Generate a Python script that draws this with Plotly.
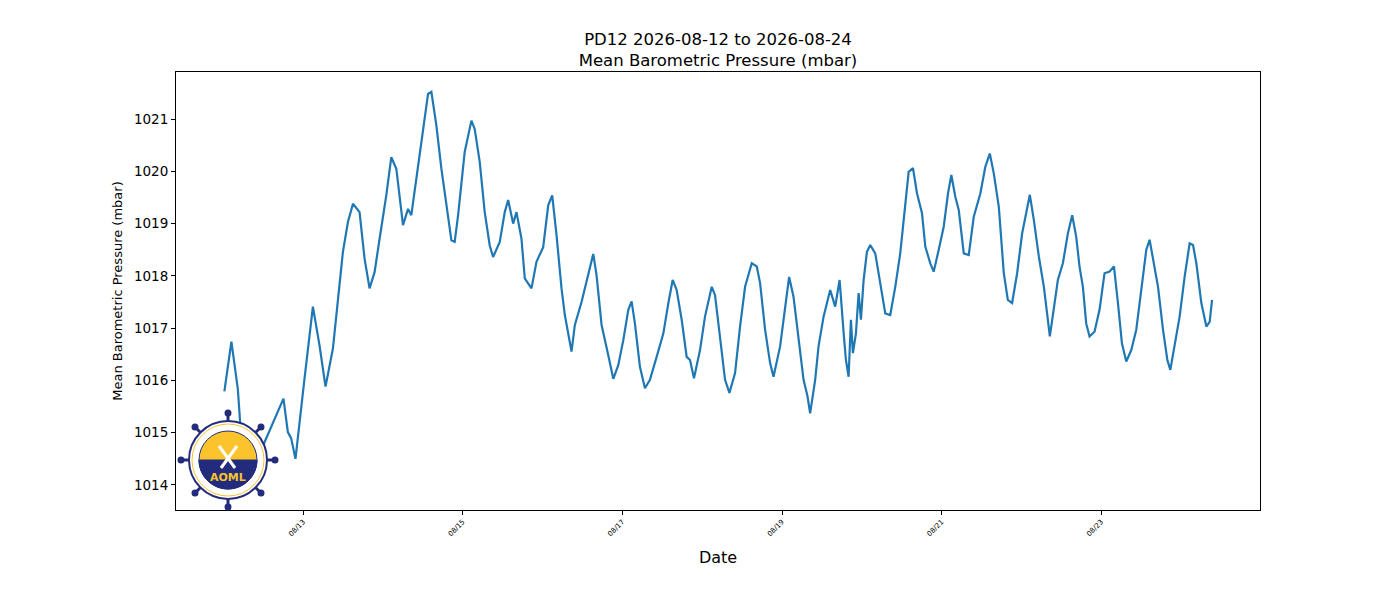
import pandas as pd
import plotly.graph_objects as go

# hours after 2026-08-12 00:00 and the pressure
hours = [0.30, 2.41, 4.34, 5.03, 5.93, 12.05, 18.07, 19.39, 20.39, 21.68,
         24.39, 26.92, 28.91, 30.72, 32.94, 34.45, 35.95, 37.46, 38.97, 40.95,
         42.46, 43.96, 45.47, 46.98, 48.99, 50.50, 52.01, 54.02, 55.53, 56.52,
         58.03, 59.53, 61.55, 62.55, 64.05, 65.56, 67.06, 68.57, 69.56, 70.59,
         72.57, 74.59, 75.58, 77.09, 78.59, 80.10, 81.12, 83.11, 84.62, 85.64,
         87.15, 88.14, 89.65, 90.64, 92.66, 94.16, 96.18, 97.69, 98.89, 100.19,
         101.69, 102.69, 104.70, 105.70, 107.71, 109.73, 111.24, 112.23, 113.74, 115.75,
         117.26, 118.76, 120.27, 121.78, 122.77, 123.76, 125.27, 126.78, 128.28, 130.30,
         132.32, 133.82, 135.12, 136.32, 137.83, 139.33, 140.33, 141.53, 143.34, 144.84,
         146.86, 147.86, 149.36, 150.87, 152.19, 153.88, 155.38, 156.89, 158.91, 160.41,
         161.41, 162.91, 164.42, 165.44, 167.43, 168.94, 170.14, 171.46, 172.97, 174.48,
         175.68, 176.46, 177.97, 178.99, 180.50, 182.49, 183.99, 185.32, 186.71, 187.22,
         188.03, 188.72, 189.32, 190.23, 191.04, 191.73, 192.54, 193.54, 194.53, 196.04,
         197.54, 199.05, 200.55, 202.06, 203.56, 205.07, 206.09, 207.39, 208.59, 210.10,
         211.09, 212.60, 213.62, 215.13, 216.63, 217.93, 218.92, 220.13, 221.15, 222.66,
         224.16, 225.67, 227.66, 229.16, 230.49, 231.69, 233.20, 234.70, 235.91, 237.20,
         238.71, 240.21, 241.72, 242.53, 243.73, 245.24, 246.75, 248.55, 250.96, 252.47,
         253.97, 255.27, 256.47, 257.47, 258.49, 259.48, 260.48, 261.98, 263.49, 264.99,
         266.50, 267.83, 269.03, 270.23, 271.53, 273.04, 274.54, 276.05, 277.56, 278.55,
         279.57, 281.08, 282.58, 283.88, 284.78, 286.07, 287.58, 289.08, 290.59, 291.61,
         292.61, 294.11, 295.62, 296.61, 297.33]

pressure = [1015.79, 1016.74, 1015.84, 1015.20, 1014.00, 1014.77, 1015.65, 1015.01, 1014.89, 1014.50,
            1016.03, 1017.41, 1016.67, 1015.88, 1016.61, 1017.56, 1018.46, 1019.03, 1019.38, 1019.22,
            1018.33, 1017.76, 1018.07, 1018.71, 1019.54, 1020.27, 1020.05, 1018.97, 1019.28, 1019.16,
            1019.86, 1020.62, 1021.48, 1021.52, 1020.88, 1020.05, 1019.35, 1018.68, 1018.65, 1019.16,
            1020.37, 1020.97, 1020.81, 1020.18, 1019.22, 1018.58, 1018.36, 1018.65, 1019.22, 1019.45,
            1019.00, 1019.22, 1018.71, 1017.95, 1017.76, 1018.27, 1018.55, 1019.35, 1019.54, 1018.78,
            1017.76, 1017.25, 1016.55, 1017.06, 1017.50, 1018.01, 1018.42, 1018.01, 1017.06, 1016.48,
            1016.03, 1016.29, 1016.77, 1017.35, 1017.51, 1017.09, 1016.26, 1015.85, 1016.01, 1016.45,
            1016.90, 1017.48, 1017.92, 1017.73, 1017.16, 1016.45, 1016.39, 1016.04, 1016.58, 1017.22,
            1017.79, 1017.63, 1016.77, 1016.01, 1015.76, 1016.14, 1017.03, 1017.79, 1018.24, 1018.18,
            1017.86, 1016.97, 1016.33, 1016.07, 1016.65, 1017.41, 1017.98, 1017.60, 1016.84, 1016.01,
            1015.69, 1015.37, 1016.01, 1016.65, 1017.22, 1017.73, 1017.41, 1017.92, 1016.77, 1016.39,
            1016.07, 1017.16, 1016.52, 1016.90, 1017.67, 1017.16, 1017.92, 1018.46, 1018.59, 1018.43,
            1017.86, 1017.28, 1017.25, 1017.79, 1018.43, 1019.39, 1019.99, 1020.06, 1019.58, 1019.20,
            1018.56, 1018.24, 1018.08, 1018.50, 1018.94, 1019.58, 1019.93, 1019.51, 1019.26, 1018.43,
            1018.40, 1019.13, 1019.58, 1020.09, 1020.34, 1019.96, 1019.32, 1018.05, 1017.54, 1017.48,
            1018.05, 1018.81, 1019.32, 1019.55, 1019.07, 1018.37, 1017.79, 1016.84, 1017.92, 1018.24,
            1018.81, 1019.16, 1018.75, 1018.18, 1017.79, 1017.09, 1016.84, 1016.93, 1017.35, 1018.05,
            1018.08, 1018.18, 1017.48, 1016.71, 1016.36, 1016.58, 1016.97, 1017.73, 1018.50, 1018.69,
            1018.30, 1017.79, 1016.97, 1016.39, 1016.20, 1016.65, 1017.22, 1017.98, 1018.62, 1018.59,
            1018.24, 1017.48, 1017.03, 1017.12, 1017.54]

station = "PD12"
start_day = "2026-08-12"
end_day = "2026-08-24"

times = pd.Timestamp(start_day) + pd.to_timedelta(hours, unit="h")

navy = "#232c7c"
gold = "#fcc42c"
font = "DejaVu Sans"

# page body has an 8px margin, so the figure is 16px smaller than the window
W, H = 1384, 584
L, R, T, B = 168, 132, 64, 82

fig = go.Figure()
fig.add_trace(go.Scatter(x=times, y=pressure, mode="lines",
                         line=dict(color="#1f77b4", width=2.2),
                         showlegend=False))

# AOML logo in the lower left corner, drawn with shapes
ax = (220 - L) / (W - L - R)
ay = (H - B - 452) / (H - T - B)


def logo_shape(kind, x0, y0, x1, y1, **kw):
    return dict(type=kind, xref="paper", yref="paper", xsizemode="pixel",
                ysizemode="pixel", xanchor=ax, yanchor=ay,
                x0=x0, y0=y0, x1=x1, y1=y1, layer="above", **kw)


shapes = []
spokes = [(0, 47), (33, 33), (47, 0), (33, -33), (0, -47), (-33, -33), (-47, 0), (-33, 33)]
for dx, dy in spokes:
    shapes.append(logo_shape("line", 0, 0, dx, dy, line=dict(color=navy, width=3)))
    shapes.append(logo_shape("circle", dx - 3.5, dy - 3.5, dx + 3.5, dy + 3.5,
                             fillcolor=navy, line=dict(color=navy, width=0)))
shapes.append(logo_shape("circle", -39, -39, 39, 39, fillcolor="white",
                         line=dict(color=navy, width=2)))
shapes.append(logo_shape("circle", -36, -36, 36, 36, fillcolor="rgba(0,0,0,0)",
                         line=dict(color=gold, width=1)))
shapes.append(logo_shape("circle", -29, -29, 29, 29, fillcolor=gold,
                         line=dict(color=navy, width=1)))
shapes.append(dict(type="path", xref="paper", yref="paper", xsizemode="pixel",
                   ysizemode="pixel", xanchor=ax, yanchor=ay, layer="above",
                   path="M -29,0 C -29,-16 -16,-29 0,-29 C 16,-29 29,-16 29,0 Z",
                   fillcolor=navy, line=dict(color=navy, width=1)))
shapes.append(logo_shape("line", -9, 14, 7, -8, line=dict(color="white", width=3)))
shapes.append(logo_shape("line", 9, 14, -7, -8, line=dict(color="white", width=3)))

fig.update_layout(
    width=W, height=H,
    paper_bgcolor="white", plot_bgcolor="white",
    margin=dict(l=L, r=R, t=T, b=B),
    font=dict(family=font, color="black", size=13.5),
    title=dict(text=f"{station} {start_day} to {end_day}<br>Mean Barometric Pressure (mbar)",
               x=(L + (W - R)) / 2 / W, xanchor="center",
               yref="container", y=1 - 37 / H, yanchor="bottom",
               font=dict(size=16.5)),
    shapes=shapes,
    annotations=[dict(text="<b>AOML</b>", xref="paper", yref="paper",
                      x=ax, y=(H - B - 469) / (H - T - B),
                      xanchor="center", yanchor="middle", showarrow=False,
                      font=dict(color=gold, size=11, family=font))],
)

fig.update_xaxes(
    range=["2026-08-11 09:45", "2026-08-24 23:45"],
    tickformat="%m/%d", dtick=2 * 86400000, tick0="2026-08-13",
    tickangle=-45, tickfont=dict(size=7),
    ticks="outside", ticklen=4, tickcolor="black",
    showgrid=False, zeroline=False,
    showline=True, linecolor="black", linewidth=1, mirror=True,
    title=dict(text="Date", font=dict(size=16), standoff=14),
)
fig.update_yaxes(
    range=[1013.52, 1021.9], dtick=1, tick0=1014,
    ticks="outside", ticklen=4, tickcolor="black",
    showgrid=False, zeroline=False,
    showline=True, linecolor="black", linewidth=1, mirror=True,
    title=dict(text="Mean Barometric Pressure (mbar)", font=dict(size=13), standoff=8),
)

fig.write_html("out.html")
